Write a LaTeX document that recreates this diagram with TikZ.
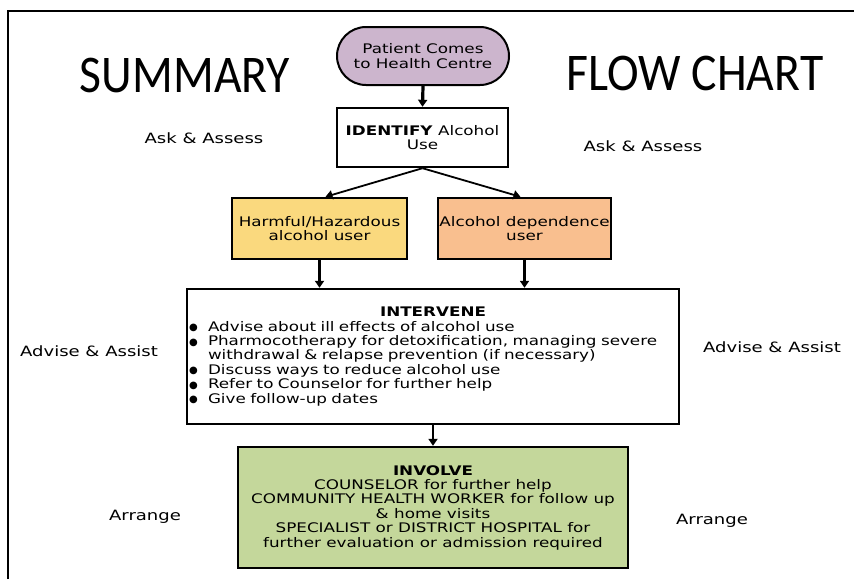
\documentclass[tikz,border=0pt]{standalone}
\usepackage{fontspec}
\setmainfont{DejaVu Sans}[FakeStretch=1.27]
\newfontfamily\plainfont{DejaVu Sans}
\newfontfamily\titlefont{Carlito}[FakeStretch=0.9]
\usetikzlibrary{arrows.meta,shapes.misc}
\setlength{\parindent}{0pt}
\definecolor{ovalfill}{RGB}{204,181,205}
\definecolor{harmfill}{RGB}{250,217,126}
\definecolor{depfill}{RGB}{249,191,143}
\definecolor{invfill}{RGB}{196,215,155}
\newcommand{\bul}{\makebox[19pt][l]{\plainfont\fontsize{10}{10}\selectfont\raisebox{0.5pt}{●}}}
\tikzset{
  boxbase/.style={draw=black, line width=2.4pt, inner sep=0pt, align=center,
    font=\fontsize{13.2}{14.4}\selectfont},
  ovalbox/.style={boxbase, rounded rectangle, fill=ovalfill, minimum width=172pt, minimum height=58pt, line width=2pt},
  plainbox/.style={boxbase, rectangle},
  sidelabel/.style={font=\fontsize{14.2}{16}\selectfont, inner sep=0pt},
  titletext/.style={font=\titlefont\fontsize{53}{53}\selectfont, inner sep=0pt, anchor=base},
  arr/.style={line width=2.2pt, -{Triangle[width=9pt,length=7pt]}},
  thinarr/.style={line width=1.8pt, -{Triangle[width=9pt,length=7pt]}}
}
\begin{document}
\begin{tikzpicture}[x=1pt,y=-1pt]
\useasboundingbox (0,0) rectangle (854,579);
% frame
\draw[line width=2pt] (8,579) -- (8,11) -- (854,11);
% titles
\node[titletext] (t1) at (185,92) {SUMMARY};
\node[titletext] (t2) at (695,90) {FLOW CHART};
% boxes
\node[ovalbox] (start) at (423,56) {Patient Comes\\to Health Centre};
\node[plainbox, minimum width=171pt, minimum height=59pt] (id) at (422.5,137.5) {\textbf{IDENTIFY} Alcohol\\Use};
\node[plainbox, fill=harmfill, minimum width=175pt, minimum height=61pt] (harm) at (319.5,228.5) {Harmful/Hazardous\\alcohol user};
\node[plainbox, fill=depfill, minimum width=173pt, minimum height=61pt] (dep) at (524.5,228.5) {Alcohol dependence\\user};
\node[plainbox, minimum width=492pt, minimum height=135pt, text width=488pt, align=left] (iv) at (433,356.5) {%
{\centering\bfseries INTERVENE\par}%
\bul\mbox{Advise about ill effects of alcohol use}\par
\bul\mbox{Pharmocotherapy for detoxification, managing severe}\par
\hspace*{19pt}\mbox{withdrawal \& relapse prevention (if necessary)}\par
\bul\mbox{Discuss ways to reduce alcohol use}\par
\bul\mbox{Refer to Counselor for further help}\par
\bul\mbox{Give follow-up dates}\par\vspace{3pt}};
\node[plainbox, fill=invfill, minimum width=390pt, minimum height=121pt] (inv) at (433,507.5) {%
\textbf{INVOLVE}\\COUNSELOR for further help\\COMMUNITY HEALTH WORKER for follow up\\\& home visits\\SPECIALIST or DISTRICT HOSPITAL for\\further evaluation or admission required};
% side labels
\node[sidelabel] (la1) at (204,138) {Ask \& Assess};
\node[sidelabel] (ra1) at (643,146) {Ask \& Assess};
\node[sidelabel] (la2) at (89,351) {Advise \& Assist};
\node[sidelabel] (ra2) at (772,347) {Advise \& Assist};
\node[sidelabel] (la3) at (145,517) {Arrange};
\node[sidelabel] (ra3) at (712,521) {Arrange};
% connectors
\draw[arr, line width=3.2pt] (start.south) -- (id.north);
\draw[thinarr] (id.south) -- ([xshift=6pt]harm.north);
\draw[thinarr] (id.south) -- ([xshift=-4pt]dep.north);
\draw[arr] (harm.south) -- (harm.south |- iv.north);
\draw[arr] (dep.south) -- (dep.south |- iv.north);
\draw[arr] (iv.south) -- (inv.north);
\end{tikzpicture}
\end{document}
